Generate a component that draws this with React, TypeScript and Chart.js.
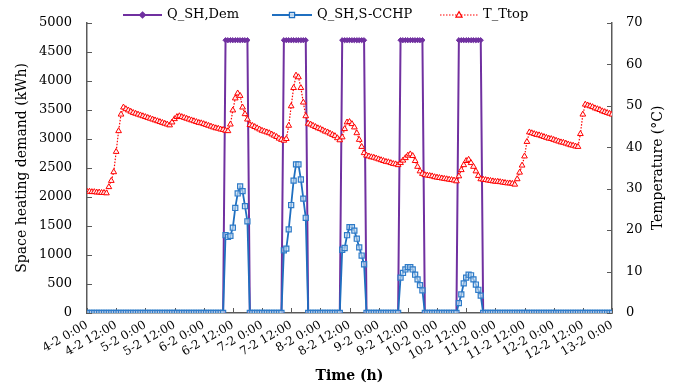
import React, { useEffect, useRef } from "react";
import { Chart, registerables } from "chart.js";

Chart.register(...registerables);

// x tick labels, one every 12 hours (hour index 0 .. 216)
const tickLabels = [
  "4-2 0:00", "4-2 12:00", "5-2 0:00", "5-2 12:00", "6-2 0:00", "6-2 12:00",
  "7-2 0:00", "7-2 12:00", "8-2 0:00", "8-2 12:00", "9-2 0:00", "9-2 12:00",
  "10-2 0:00", "10-2 12:00", "11-2 0:00", "11-2 12:00", "12-2 0:00", "12-2 12:00",
  "13-2 0:00",
];

const seriesNames = ["Q_SH,Dem", "Q_SH,S-CCHP", "T_Ttop"];

// Space heating demand (kWh), hourly, 4-2 0:00 .. 13-2 0:00
const qDem = [
  // 4-2
  0, 0, 0, 0, 0, 0, 0, 0, 0, 0, 0, 0, 0, 0, 0, 0, 0, 0, 0, 0, 0, 0, 0, 0,
  // 5-2
  0, 0, 0, 0, 0, 0, 0, 0, 0, 0, 0, 0, 0, 0, 0, 0, 0, 0, 0, 0, 0, 0, 0, 0,
  // 6-2
  0, 0, 0, 0, 0, 0, 0, 0, 0, 4700, 4700, 4700, 4700, 4700, 4700, 4700, 4700, 4700, 4700, 0, 0, 0, 0, 0,
  // 7-2
  0, 0, 0, 0, 0, 0, 0, 0, 0, 4700, 4700, 4700, 4700, 4700, 4700, 4700, 4700, 4700, 4700, 0, 0, 0, 0, 0,
  // 8-2
  0, 0, 0, 0, 0, 0, 0, 0, 0, 4700, 4700, 4700, 4700, 4700, 4700, 4700, 4700, 4700, 4700, 0, 0, 0, 0, 0,
  // 9-2
  0, 0, 0, 0, 0, 0, 0, 0, 0, 4700, 4700, 4700, 4700, 4700, 4700, 4700, 4700, 4700, 4700, 0, 0, 0, 0, 0,
  // 10-2
  0, 0, 0, 0, 0, 0, 0, 0, 0, 4700, 4700, 4700, 4700, 4700, 4700, 4700, 4700, 4700, 4700, 0, 0, 0, 0, 0,
  // 11-2
  0, 0, 0, 0, 0, 0, 0, 0, 0, 0, 0, 0, 0, 0, 0, 0, 0, 0, 0, 0, 0, 0, 0, 0,
  // 12-2
  0, 0, 0, 0, 0, 0, 0, 0, 0, 0, 0, 0, 0, 0, 0, 0, 0, 0, 0, 0, 0, 0, 0, 0,
  // 13-2 0:00
  0,
];

// Space heating supplied by S-CCHP (kWh)
const qCchp = [
  // 4-2
  0, 0, 0, 0, 0, 0, 0, 0, 0, 0, 0, 0, 0, 0, 0, 0, 0, 0, 0, 0, 0, 0, 0, 0,
  // 5-2
  0, 0, 0, 0, 0, 0, 0, 0, 0, 0, 0, 0, 0, 0, 0, 0, 0, 0, 0, 0, 0, 0, 0, 0,
  // 6-2
  0, 0, 0, 0, 0, 0, 0, 0, 0, 1340, 1310, 1330, 1470, 1810, 2060, 2180, 2100, 1840, 1580, 0, 0, 0, 0, 0,
  // 7-2
  0, 0, 0, 0, 0, 0, 0, 0, 0, 1080, 1110, 1440, 1860, 2280, 2560, 2560, 2300, 1970, 1640, 0, 0, 0, 0, 0,
  // 8-2
  0, 0, 0, 0, 0, 0, 0, 0, 0, 1090, 1120, 1340, 1480, 1480, 1420, 1280, 1130, 990, 840, 0, 0, 0, 0, 0,
  // 9-2
  0, 0, 0, 0, 0, 0, 0, 0, 0, 610, 690, 750, 790, 790, 750, 660, 580, 480, 390, 0, 0, 0, 0, 0,
  // 10-2
  0, 0, 0, 0, 0, 0, 0, 0, 0, 170, 320, 510, 610, 660, 650, 580, 490, 400, 300, 0, 0, 0, 0, 0,
  // 11-2
  0, 0, 0, 0, 0, 0, 0, 0, 0, 0, 0, 0, 0, 0, 0, 0, 0, 0, 0, 0, 0, 0, 0, 0,
  // 12-2
  0, 0, 0, 0, 0, 0, 0, 0, 0, 0, 0, 0, 0, 0, 0, 0, 0, 0, 0, 0, 0, 0, 0, 0,
  // 13-2 0:00
  0,
];

// Tank top temperature (°C)
const tTop = [
  // 4-2
  29.3, 29.3, 29.2, 29.2, 29.1, 29.1, 29.0, 29.0, 28.9, 30.4, 31.9, 34.0,
  38.9, 43.9, 47.9, 49.6, 49.2, 48.9, 48.6, 48.3, 48.1, 47.9, 47.7, 47.5,
  // 5-2
  47.3, 47.1, 46.9, 46.7, 46.5, 46.3, 46.1, 45.9, 45.7, 45.5, 45.3, 46.0,
  46.8, 47.3, 47.5, 47.3, 47.1, 46.9, 46.7, 46.5, 46.3, 46.1, 45.9, 45.8,
  // 6-2
  45.6, 45.4, 45.2, 45.0, 44.8, 44.6, 44.5, 44.3, 44.2, 44.0, 43.9, 45.5,
  48.9, 51.8, 53.0, 52.4, 49.6, 48.0, 46.7, 45.4, 45.2, 44.9, 44.6, 44.3,
  // 7-2
  44.0, 43.8, 43.6, 43.4, 43.1, 42.8, 42.5, 42.1, 41.8, 41.6, 42.0, 45.2,
  49.9, 54.3, 57.3, 56.9, 54.3, 50.8, 47.5, 45.7, 45.5, 45.2, 44.9, 44.6,
  // 8-2
  44.4, 44.1, 43.8, 43.6, 43.3, 43.0, 42.7, 42.2, 41.7, 42.4, 44.4, 46.0,
  46.1, 45.6, 44.8, 43.4, 41.8, 40.1, 38.6, 38.0, 37.8, 37.6, 37.5, 37.3,
  // 9-2
  37.1, 36.9, 36.7, 36.5, 36.4, 36.2, 36.0, 35.9, 35.7, 36.2, 36.8, 37.4,
  38.0, 38.3, 37.9, 36.7, 35.3, 34.2, 33.6, 33.3, 33.2, 33.1, 33.0, 32.8,
  // 10-2
  32.7, 32.6, 32.5, 32.4, 32.3, 32.2, 32.1, 32.0, 31.8, 33.0, 34.5, 35.7,
  36.7, 37.0, 36.2, 35.3, 34.2, 33.1, 32.3, 32.2, 32.1, 32.0, 31.9, 31.8,
  // 11-2
  31.7, 31.7, 31.6, 31.5, 31.4, 31.3, 31.3, 31.2, 31.0, 32.3, 33.9, 35.6,
  37.8, 41.3, 43.6, 43.4, 43.2, 43.0, 42.9, 42.7, 42.5, 42.3, 42.1, 42.0,
  // 12-2
  41.8, 41.6, 41.4, 41.2, 41.1, 40.9, 40.7, 40.5, 40.4, 40.2, 40.1, 43.2,
  47.9, 50.3, 50.1, 49.9, 49.7, 49.4, 49.2, 49.0, 48.7, 48.5, 48.3, 48.1,
  // 13-2 0:00
  47.9,
];

const FONT = '"DejaVu Serif", "Liberation Serif", serif';
const PURPLE = "#7030A0";
const BLUE = "#1F6FC0";
const RED = "#FF0000";
const AXIS = "#5a5a5a";
const RIGHT_TITLE = "Temperature (°C)";

function drawMarker(ctx: CanvasRenderingContext2D, style: string, x: number, y: number, color: string) {
  ctx.save();
  ctx.setLineDash([]);
  ctx.lineWidth = 1.2;
  ctx.strokeStyle = color;
  ctx.beginPath();
  if (style === "rectRot") {
    const r = 3;
    ctx.moveTo(x, y - r);
    ctx.lineTo(x + r, y);
    ctx.lineTo(x, y + r);
    ctx.lineTo(x - r, y);
    ctx.closePath();
    ctx.fillStyle = color;
    ctx.fill();
    ctx.stroke();
  } else if (style === "rect") {
    const s = 2.6;
    ctx.rect(x - s, y - s, 2 * s, 2 * s);
    ctx.fillStyle = "rgba(200,222,242,0.9)";
    ctx.fill();
    ctx.stroke();
  } else {
    const r = 3.4;
    ctx.moveTo(x, y - r);
    ctx.lineTo(x + r * 0.9, y + r * 0.6);
    ctx.lineTo(x - r * 0.9, y + r * 0.6);
    ctx.closePath();
    ctx.fillStyle = "#fff";
    ctx.fill();
    ctx.stroke();
  }
  ctx.restore();
}

const decorPlugin = {
  id: "decor",
  beforeDatasetsDraw(chart: any) {
    const ctx = chart.ctx as CanvasRenderingContext2D;
    const { left, right, bottom } = chart.chartArea;
    ctx.save();
    ctx.strokeStyle = AXIS;
    ctx.lineWidth = 1;
    const y = chart.scales.y;
    y.ticks.forEach((t: any) => {
      const py = Math.round(y.getPixelForValue(t.value)) + 0.5;
      ctx.beginPath();
      ctx.moveTo(left, py);
      ctx.lineTo(left + 5, py);
      ctx.stroke();
    });
    const y1 = chart.scales.y1;
    y1.ticks.forEach((t: any) => {
      const py = Math.round(y1.getPixelForValue(t.value)) + 0.5;
      ctx.beginPath();
      ctx.moveTo(right - 5, py);
      ctx.lineTo(right, py);
      ctx.stroke();
    });
    const x = chart.scales.x;
    x.ticks.forEach((t: any) => {
      const px = Math.round(x.getPixelForValue(t.value)) + 0.5;
      ctx.beginPath();
      ctx.moveTo(px, bottom);
      ctx.lineTo(px, bottom - 5);
      ctx.stroke();
    });
    ctx.restore();
  },
  afterDraw(chart: any) {
    const ctx = chart.ctx as CanvasRenderingContext2D;
    const items = [
      { name: seriesNames[0], x0: 123, x1: 162, color: PURPLE, style: "rectRot", dash: [] as number[], w: 2 },
      { name: seriesNames[1], x0: 272, x1: 312, color: BLUE, style: "rect", dash: [] as number[], w: 1.8 },
      { name: seriesNames[2], x0: 440, x1: 478, color: RED, style: "triangle", dash: [1.5, 1.5], w: 1.2 },
    ];
    const ly = 15;
    ctx.save();
    items.forEach((it) => {
      ctx.beginPath();
      ctx.setLineDash(it.dash);
      ctx.strokeStyle = it.color;
      ctx.lineWidth = it.w;
      ctx.moveTo(it.x0, ly);
      ctx.lineTo(it.x1, ly);
      ctx.stroke();
      drawMarker(ctx, it.style, (it.x0 + it.x1) / 2, ly, it.color);
      ctx.setLineDash([]);
      ctx.fillStyle = "#000";
      ctx.font = `13px ${FONT}`;
      ctx.textBaseline = "middle";
      ctx.textAlign = "left";
      ctx.fillText(it.name, it.x1 + 5, ly);
    });
    // right axis title, reading bottom-to-top like the reference
    const { top, bottom } = chart.chartArea;
    ctx.translate(658, (top + bottom) / 2);
    ctx.rotate(-Math.PI / 2);
    ctx.font = `14px ${FONT}`;
    ctx.textAlign = "center";
    ctx.textBaseline = "middle";
    ctx.fillStyle = "#000";
    ctx.fillText(RIGHT_TITLE, 0, 0);
    ctx.restore();
  },
};

export default function App() {
  const ref = useRef<HTMLCanvasElement | null>(null);

  useEffect(() => {
    if (!ref.current) return;
    const idx = tTop.map((_, i) => i);
    const chart = new Chart(ref.current, {
      type: "line",
      data: {
        datasets: [
          {
            label: seriesNames[0],
            data: idx.map((i) => ({ x: i, y: qDem[i] })),
            yAxisID: "y",
            borderColor: PURPLE,
            borderWidth: 2,
            pointStyle: "rectRot",
            pointRadius: 2.6,
            pointBackgroundColor: PURPLE,
            pointBorderColor: PURPLE,
            pointBorderWidth: 1,
            tension: 0,
            order: 2,
          },
          {
            label: seriesNames[1],
            data: idx.map((i) => ({ x: i, y: qCchp[i] })),
            yAxisID: "y",
            borderColor: BLUE,
            borderWidth: 1.8,
            pointStyle: "rect",
            pointRadius: 3.6,
            pointBackgroundColor: "rgba(200,222,242,0.6)",
            pointBorderColor: "#2E7BC8",
            pointBorderWidth: 1.2,
            tension: 0,
            order: 1,
          },
          {
            label: seriesNames[2],
            data: idx.map((i) => ({ x: i, y: tTop[i] })),
            yAxisID: "y1",
            borderColor: RED,
            borderWidth: 1.2,
            borderDash: [1.5, 1.5],
            pointStyle: "triangle",
            pointRadius: 3.3,
            pointBackgroundColor: "rgba(255,255,255,0.85)",
            pointBorderColor: RED,
            pointBorderWidth: 1,
            tension: 0,
            order: 0,
          },
        ],
      },
      options: {
        responsive: false,
        animation: false,
        devicePixelRatio: 1,
        layout: { padding: { top: 15, left: 0, right: 0, bottom: 0 } },
        plugins: {
          legend: { display: false },
          tooltip: { enabled: false },
        },
        scales: {
          x: {
            type: "linear",
            min: 0,
            max: 216,
            grid: { display: false, drawTicks: false },
            border: { display: true, color: AXIS, width: 1.5 },
            ticks: {
              stepSize: 12,
              autoSkip: false,
              maxRotation: 30,
              minRotation: 30,
              padding: 5,
              color: "#000",
              font: { family: FONT, size: 12 },
              callback: (v: any) => tickLabels[Math.round(Number(v) / 12)] ?? "",
            },
            title: {
              display: true,
              text: "Time (h)",
              color: "#000",
              font: { family: FONT, size: 14, weight: "bold" },
              padding: { top: 0, bottom: 1 },
            },
            afterFit: (s: any) => {
              s.height = 73;
            },
          },
          y: {
            position: "left",
            min: 0,
            max: 5000,
            grid: { display: false, drawTicks: false },
            border: { display: true, color: AXIS, width: 1.5 },
            ticks: {
              stepSize: 500,
              padding: 15,
              color: "#000",
              font: { family: FONT, size: 13 },
              callback: (v: any) => String(v),
            },
            title: {
              display: true,
              text: "Space heating demand (kWh)",
              color: "#000",
              font: { family: FONT, size: 14 },
              padding: { top: 13.6, bottom: 0 },
            },
            afterFit: (s: any) => {
              s.width = 87;
            },
          },
          y1: {
            position: "right",
            min: 0,
            max: 70,
            grid: { display: false, drawTicks: false },
            border: { display: true, color: AXIS, width: 1.5 },
            ticks: {
              stepSize: 10,
              padding: 14,
              color: "#000",
              font: { family: FONT, size: 13 },
              callback: (v: any) => String(v),
            },
            title: { display: false },
            afterFit: (s: any) => {
              s.width = 65;
            },
          },
        },
      },
      plugins: [decorPlugin],
    } as any);
    return () => chart.destroy();
  }, []);

  return (
    <div style={{ position: "absolute", left: 0, top: 0, width: 677, height: 386, background: "#fff" }}>
      <canvas ref={ref} width={677} height={386} style={{ display: "block", width: 677, height: 386 }} />
    </div>
  );
}
